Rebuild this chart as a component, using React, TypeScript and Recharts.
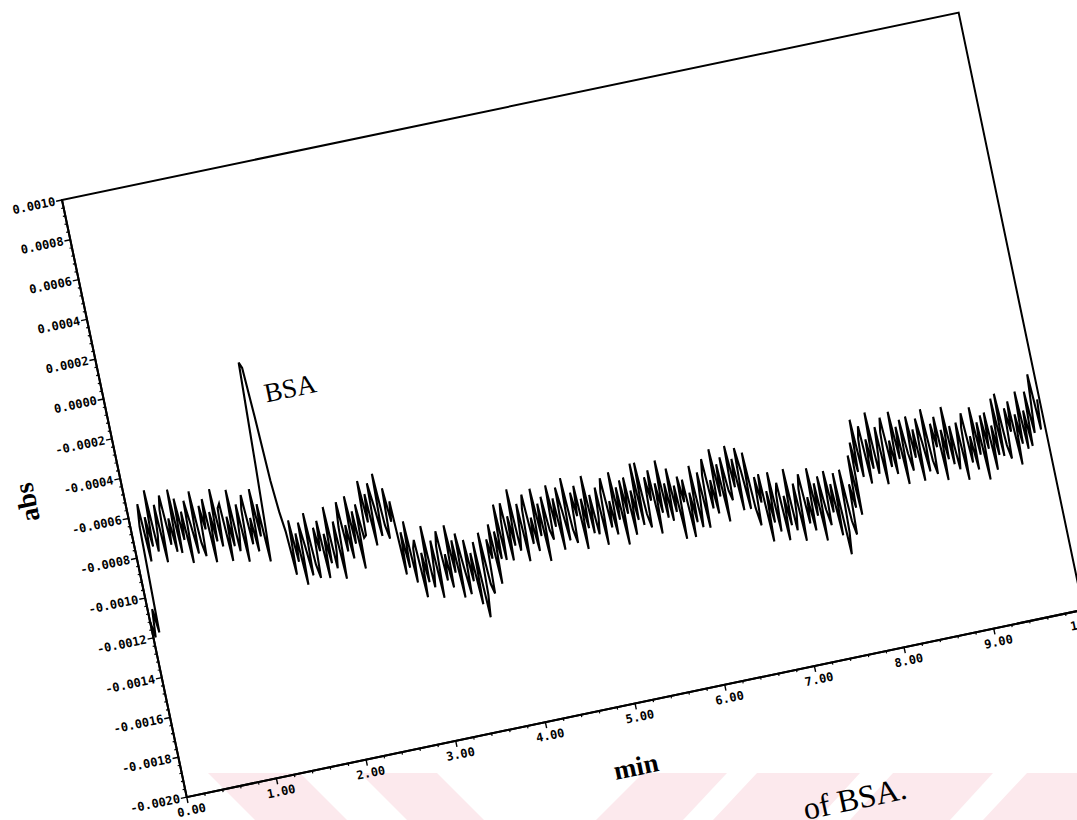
import { LineChart, Line, XAxis, YAxis, ReferenceArea, ReferenceDot, Label } from 'recharts'

// Detector trace, absorbance in units of 1e-4 abs, one reading every 0.025 min
const SAMPLE_STEP = 0.025
const absorbance: number[] = [
  -11.2, -12.0, -10.6, -11.8, -6.5, -5.4, -8.3, -6.1, -7.6, -4.8, -7.9, -7.1, -5.6, -8.5, -5.9, -5.2, -7.7, -6.4, -8.1, -5.0,
  -8.2, -5.5, -7.6, -6.2, -8.8, -5.7, -6.9, -8.4, -5.3, -7.9, -8.6, -6.1, -7.3, -5.8, -9.0, -6.5, -8.0, -5.4, -8.3, -6.4,
  -6.2, -9.1, -6.9, -8.4, -5.6, -8.7, -7.9, -6.4, -9.3, -6.7, -6.0, -8.5, -7.2, -8.9, -5.8, -8.2, -6.6, -9.5, -7.2, -4.8,
  -2.2, 0.4, 0.1, -2.4, -5.6, -7.2, -8.2, -10.4, -7.7, -9.8, -8.4, -11.0, -7.9, -9.1, -10.6, -7.5, -10.1, -10.8, -8.3, -9.5,
  -8.0, -10.9, -8.7, -10.2, -7.4, -10.5, -9.7, -8.2, -11.1, -8.5, -7.3, -9.8, -8.5, -10.2, -7.1, -9.5, -7.9, -10.8, -7.6, -9.3,
  -9.2, -6.5, -8.6, -7.2, -9.8, -6.7, -7.9, -9.4, -6.3, -8.9, -9.6, -7.1, -8.8, -7.8, -11.5, -9.4, -11.2, -8.9, -12.0, -10.3,
  -9.9, -12.8, -10.6, -12.1, -9.3, -12.4, -11.6, -10.1, -13.0, -10.4, -9.7, -12.2, -10.9, -12.6, -9.5, -11.9, -10.3, -13.2, -10.0, -11.7,
  -13.1, -10.4, -12.5, -11.1, -13.7, -10.6, -14.4, -13.3, -10.2, -12.8, -13.3, -10.6, -11.6, -9.9, -12.9, -10.3, -11.7, -9.0, -11.8, -9.8,
  -9.0, -11.9, -9.7, -11.2, -8.4, -11.5, -10.7, -9.2, -12.1, -9.5, -8.8, -11.3, -10.0, -11.7, -8.6, -11.0, -9.4, -12.3, -9.1, -10.8,
  -11.3, -8.6, -10.7, -9.3, -11.9, -8.8, -10.0, -11.5, -8.4, -11.0, -11.7, -9.2, -10.4, -8.9, -12.1, -9.6, -11.1, -8.5, -11.4, -9.5,
  -11.5, -10.7, -9.2, -12.1, -9.5, -8.8, -11.3, -10.0, -11.7, -8.6, -11.0, -9.4, -12.3, -9.1, -10.8, -9.0, -11.9, -9.7, -11.2, -8.4,
  -11.5, -8.4, -11.0, -11.7, -9.2, -10.4, -8.9, -12.1, -9.6, -11.1, -8.5, -11.4, -9.7, -11.6, -9.0, -11.2, -9.9, -12.6, -9.5, -10.8,
  -9.7, -12.6, -10.4, -11.9, -9.1, -12.2, -11.0, -9.5, -12.3, -9.7, -8.9, -11.4, -10.0, -11.7, -8.5, -10.9, -9.3, -12.2, -9.0, -10.7,
  -11.2, -8.5, -10.6, -9.2, -11.8, -8.7, -9.9, -11.8, -9.0, -11.8, -12.7, -10.3, -11.6, -10.2, -13.6, -11.1, -12.7, -10.2, -13.2, -11.3,
  -10.8, -13.7, -11.5, -13.0, -10.2, -13.3, -12.5, -11.0, -13.9, -11.3, -10.6, -13.1, -11.8, -13.5, -10.4, -12.8, -11.2, -14.1, -10.9, -12.6,
  -13.4, -10.7, -12.8, -11.4, -14.0, -10.9, -15.0, -13.9, -10.8, -13.4, -14.1, -11.6, -12.8, -10.2, -13.2, -9.6, -11.1, -8.5, -11.4, -9.5,
  -8.9, -11.8, -9.6, -11.1, -8.3, -11.4, -10.6, -9.1, -12.0, -9.4, -8.7, -11.2, -9.9, -11.6, -8.5, -10.9, -9.3, -12.2, -9.0, -10.7,
  -11.6, -8.9, -11.0, -9.6, -12.2, -9.1, -10.3, -11.8, -8.7, -11.3, -12.0, -9.5, -10.7, -9.2, -12.4, -9.9, -11.4, -8.8, -11.7, -9.8,
  -12.0, -11.2, -9.7, -12.6, -10.0, -9.3, -11.8, -10.5, -12.2, -9.1, -11.5, -9.9, -12.8, -9.6, -11.3, -9.5, -12.4, -10.2, -11.7, -8.9,
  -11.8, -8.7, -11.3, -12.0, -9.5, -10.7, -9.2, -12.4, -9.9, -11.4, -8.8, -11.7, -9.8, -11.6, -8.9, -11.0, -9.6, -8.1, -10.9, -9.4,
]

const timeTicks = [0, 1, 2, 3, 4, 5, 6, 7, 8, 9, 10]
const absTicks = [-20, -18, -16, -14, -12, -10, -8, -6, -4, -2, 0, 2, 4, 6, 8, 10]

// peak annotation (time in min, absorbance in 1e-4 abs)
const peakName = 'BSA'
const peakLabelAt = { t: 1.73, a: -1.8 }

const data = absorbance.map((a, i) => ({ t: +(i * SAMPLE_STEP).toFixed(3), a }))

// five minor divisions between labelled ticks
function withMinor(major: number[]) {
  const out: number[] = []
  for (let i = 0; i < major.length - 1; i++) {
    const step = (major[i + 1] - major[i]) / 5
    for (let k = 0; k < 5; k++) out.push(+(major[i] + k * step).toFixed(3))
  }
  out.push(major[major.length - 1])
  return out
}

const isOn = (v: number, list: number[]) => list.some((m) => Math.abs(m - v) < 1e-6)

const tickFont = {
  fontFamily: '"DejaVu Sans Mono", monospace',
  fontWeight: 700,
  fontSize: 12,
  fill: '#000',
}
const titleFont = '"Liberation Serif", "Times New Roman", serif'

const TimeTick = ({ x, y, payload }: any) => {
  const v = payload.value
  if (!isOn(v, timeTicks)) {
    return <line x1={x} y1={y} x2={x} y2={y + 2.5} stroke="#000" strokeWidth={1.2} />
  }
  return (
    <g>
      <line x1={x} y1={y} x2={x} y2={y + 6} stroke="#000" strokeWidth={1.4} />
      <text x={x + 2} y={y + 18} textAnchor="middle" {...tickFont}>
        {v.toFixed(2)}
      </text>
    </g>
  )
}

const AbsTick = ({ x, y, payload }: any) => {
  const v = payload.value
  if (!isOn(v, absTicks)) {
    return <line x1={x - 2.5} y1={y} x2={x} y2={y} stroke="#000" strokeWidth={1.2} />
  }
  return (
    <g>
      <line x1={x - 6} y1={y} x2={x} y2={y} stroke="#000" strokeWidth={1.4} />
      <text x={x - 7} y={y} textAnchor="end" dominantBaseline="central" {...tickFont}>
        {(v / 10000).toFixed(4)}
      </text>
    </g>
  )
}

const AbsTitle = ({ viewBox }: any) => {
  const cx = viewBox.x + viewBox.width - 96
  const cy = viewBox.y + 289
  return (
    <text
      x={cx}
      y={cy}
      transform={`rotate(-90 ${cx} ${cy})`}
      textAnchor="middle"
      dominantBaseline="central"
      fontFamily={titleFont}
      fontWeight="bold"
      fontSize={27}
      fill="#000"
    >
      abs
    </text>
  )
}

const TimeTitle = ({ viewBox }: any) => (
  <text
    x={viewBox.x + 446}
    y={viewBox.y + 71}
    textAnchor="middle"
    fontFamily={titleFont}
    fontWeight="bold"
    fontSize={27}
    fill="#000"
  >
    min
  </text>
)

const PeakName = ({ cx, cy }: any) => (
  <text x={cx} y={cy} fontFamily={titleFont} fontSize={27} fill="#000">
    {peakName}
  </text>
)

// plot area: 916 x 610, starting at (120, 20) inside the chart
const PLOT_LEFT = 120
const PLOT_TOP = 20

export default function App() {
  return (
    <div
      style={{
        position: 'absolute',
        left: 0,
        top: 0,
        width: 1077,
        height: 820,
        overflow: 'hidden',
        background: '#fff',
      }}
    >
      {/* faint stamp along the bottom of the page */}
      <svg width={1077} height={820} style={{ position: 'absolute', left: 0, top: 0 }}>
        <g fill="#fce9ed">
          <polygon points="208,773 300,773 347,820 255,820" />
          <polygon points="360,773 437,773 484,820 407,820" />
          <polygon points="643,773 727,773 683,820 596,820" />
          <polygon points="757,773 860,773 817,820 713,820" />
          <polygon points="893,773 993,773 950,820 850,820" />
          <polygon points="1027,773 1100,773 1100,820 983,820" />
        </g>
      </svg>

      <div
        style={{
          position: 'absolute',
          left: 62 - PLOT_LEFT,
          top: 200 - PLOT_TOP,
          transformOrigin: `${PLOT_LEFT}px ${PLOT_TOP}px`,
          transform: 'rotate(-11.8deg)',
        }}
      >
        <LineChart
          width={1056}
          height={710}
          data={data}
          margin={{ top: PLOT_TOP, right: 20, bottom: 0, left: 0 }}
        >
          <XAxis
            dataKey="t"
            type="number"
            domain={[0, 10]}
            ticks={withMinor(timeTicks)}
            interval={0}
            tickSize={0}
            tickMargin={0}
            tickLine={false}
            tick={<TimeTick />}
            axisLine={{ stroke: '#000', strokeWidth: 2 }}
            height={80}
          >
            <Label content={<TimeTitle />} />
          </XAxis>
          <YAxis
            type="number"
            domain={[-20, 10]}
            ticks={withMinor(absTicks)}
            interval={0}
            tickSize={0}
            tickMargin={0}
            tickLine={false}
            tick={<AbsTick />}
            axisLine={{ stroke: '#000', strokeWidth: 2 }}
            width={PLOT_LEFT}
          >
            <Label content={<AbsTitle />} />
          </YAxis>
          <ReferenceArea
            x1={0}
            x2={10}
            y1={-20}
            y2={10}
            fill="none"
            stroke="#000"
            strokeWidth={2}
          />
          <Line
            type="linear"
            dataKey="a"
            stroke="#000"
            strokeWidth={2.1}
            dot={false}
            isAnimationActive={false}
          />
          <ReferenceDot x={peakLabelAt.t} y={peakLabelAt.a} r={0} shape={<PeakName />} />
        </LineChart>
      </div>

      <div
        style={{
          position: 'absolute',
          left: 806,
          top: 793,
          fontFamily: titleFont,
          fontSize: 32,
          lineHeight: 1,
          whiteSpace: 'nowrap',
          transformOrigin: '0 28px',
          transform: 'rotate(-12deg)',
        }}
      >
        of BSA.
      </div>
    </div>
  )
}
